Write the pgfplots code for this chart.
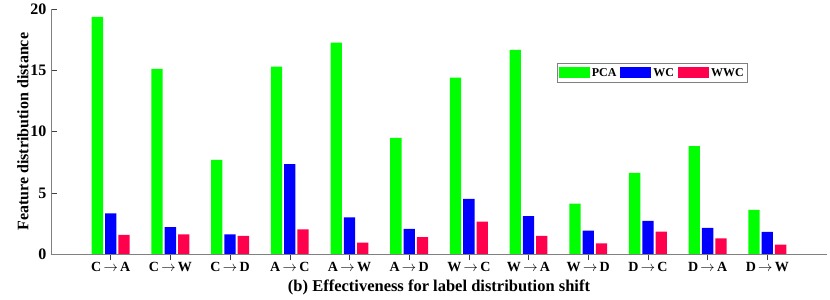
\documentclass[border=0pt]{standalone}
\usepackage{pgfplots}
\pgfplotsset{compat=1.18}
\usepackage{fontspec}
\setmainfont{Liberation Serif}
\definecolor{cg}{RGB}{0,255,0}
\definecolor{cb}{RGB}{0,0,255}
\definecolor{cr}{RGB}{255,0,77}
\begin{document}
\begin{tikzpicture}
\useasboundingbox (0,0) rectangle (830bp,300bp);
\begin{axis}[
  at={(51bp,46bp)}, anchor=south west,
  width=776bp, height=244.5bp, scale only axis,
  xmin=0, xmax=13, ymin=0, ymax=20,
  axis x line*=bottom, axis y line*=left,
  axis line style={-, black!50, line width=0.8pt},
  tick align=inside, major tick length=6bp,
  tick style={black!75, line width=0.5pt},
  xtick={1,...,12},
  xticklabels={C\,$\rightarrow$\,A, C\,$\rightarrow$\,W, C\,$\rightarrow$\,D, A\,$\rightarrow$\,C, A\,$\rightarrow$\,W, A\,$\rightarrow$\,D, W\,$\rightarrow$\,C, W\,$\rightarrow$\,A, W\,$\rightarrow$\,D, D\,$\rightarrow$\,C, D\,$\rightarrow$\,A, D\,$\rightarrow$\,W},
  ytick={0,5,10,15,20},
  /pgf/number format/assume math mode=true,
  xticklabel style={font=\fontsize{14bp}{16bp}\selectfont\bfseries, yshift=1bp},
  yticklabel style={font=\fontsize{16bp}{18bp}\selectfont\bfseries, xshift=-1bp},
  xlabel={(b) Effectiveness for label distribution shift},
  ylabel={Feature distribution distance},
  xlabel style={font=\fontsize{16.5bp}{18bp}\selectfont\bfseries, yshift=-1bp},
  ylabel style={font=\fontsize{16bp}{18bp}\selectfont\bfseries, yshift=-5bp},
  ybar, bar width=11.3bp,
  legend columns=3,
  legend style={at={(0.652,0.78)}, anchor=north west, draw=black!50, line width=0.8pt,
    font=\fontsize{12bp}{14bp}\selectfont\bfseries, inner xsep=1.5bp, inner ysep=2.5bp,
    /tikz/every even column/.append style={column sep=2bp}},
  legend image code/.code={\fill[#1] (0bp,-5.5bp) rectangle (31bp,5.5bp);},
]
\addplot[fill=cg, draw=none, bar shift=-13.3bp] coordinates {
(1,19.4) (2,15.14) (3,7.7) (4,15.33) (5,17.3) (6,9.5) (7,14.43) (8,16.7) (9,4.12) (10,6.64) (11,8.83) (12,3.6)};
\addplot[fill=cb, draw=none, bar shift=0bp] coordinates {
(1,3.33) (2,2.19) (3,1.61) (4,7.35) (5,3.0) (6,2.05) (7,4.5) (8,3.09) (9,1.91) (10,2.7) (11,2.13) (12,1.8)};
\addplot[fill=cr, draw=none, bar shift=13.3bp] coordinates {
(1,1.56) (2,1.61) (3,1.48) (4,2.02) (5,0.93) (6,1.39) (7,2.65) (8,1.48) (9,0.87) (10,1.83) (11,1.28) (12,0.76)};
\legend{PCA, WC, WWC}
\end{axis}
\end{tikzpicture}
\end{document}
